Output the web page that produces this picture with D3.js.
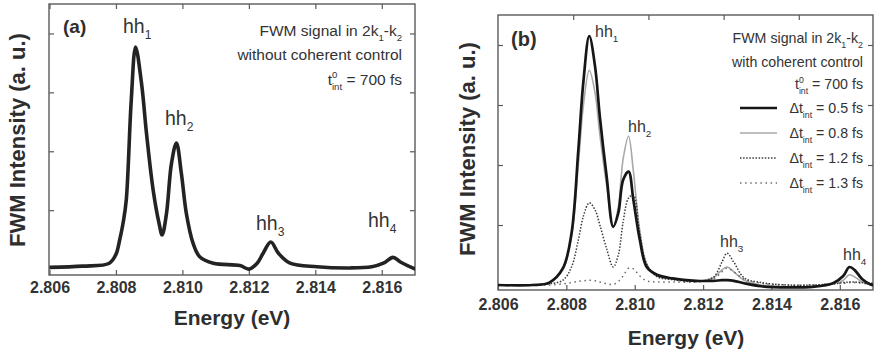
<!DOCTYPE html>
<html>
<head>
<meta charset="utf-8">
<script src="https://cdn.jsdelivr.net/npm/d3@7"></script>
<style>
  body { margin: 0; background: #fff; }
  svg { font-family: "Liberation Sans", Arial, sans-serif; }
</style>
</head>
<body>
<div id="chart"></div>
<script>
// DATA (ENERGY IN eV, INTENSITY IN ARB. UNITS)
const energyA = [2.806, 2.807, 2.8078, 2.808, 2.80811, 2.80822, 2.80831, 2.80846, 2.80859, 2.80877,
                 2.80892, 2.80912, 2.8093, 2.80939, 2.80952, 2.80967, 2.80982, 2.80997, 2.81012, 2.81032,
                 2.81052, 2.81093, 2.81173, 2.812, 2.81225, 2.81243, 2.81266, 2.81289, 2.81324, 2.81405,
                 2.81505, 2.8157, 2.81605, 2.81634, 2.81656, 2.81701];
const intensityA = [0.03, 0.05, 0.1, 0.25, 0.49, 0.8, 1.17, 2.86, 3.77, 3.15,
                    2.3, 1.34, 0.77, 0.58, 0.94, 1.79, 2.14, 1.62, 0.94, 0.44,
                    0.21, 0.1, 0.06, 0.0, 0.1, 0.27, 0.46, 0.27, 0.1, 0.04,
                    0.02, 0.04, 0.1, 0.2, 0.12, 0.0];

const energyB = [2.806, 2.807, 2.8075, 2.8079, 2.80815, 2.80835, 2.8085, 2.80867, 2.80884, 2.80898,
                 2.80918, 2.80937, 2.80952, 2.80966, 2.80982, 2.80996, 2.81015, 2.81035, 2.81065, 2.8111,
                 2.8118, 2.8123, 2.81255, 2.8127, 2.8129, 2.8132, 2.8137, 2.8145, 2.8152, 2.8158,
                 2.8161, 2.81628, 2.81645, 2.81665, 2.8169, 2.817];
const intensityB05 = [0.0, 0.0, 0.04, 0.28, 0.86, 2.25, 3.4, 4.15, 3.64, 2.8,
                      1.8, 0.97, 1.2, 1.75, 1.89, 1.42, 0.75, 0.3, 0.17, 0.11,
                      0.07, 0.07, 0.08, 0.08, 0.07, 0.03, -0.02, -0.04, -0.03, 0.03,
                      0.15, 0.3, 0.24, 0.1, 0.01, 0.0];
const intensityB08 = [0.0, 0.0, 0.03, 0.26, 0.8, 2.0, 3.0, 3.58, 3.2, 2.5,
                      1.65, 0.97, 1.3, 2.1, 2.48, 1.9, 0.9, 0.35, 0.15, 0.1,
                      0.06, 0.12, 0.25, 0.3, 0.22, 0.08, 0.0, -0.03, -0.03, 0.02,
                      0.08, 0.17, 0.13, 0.05, 0.0, 0.0];
const intensityB12 = [0.0, 0.0, 0.02, 0.08, 0.3, 0.75, 1.15, 1.37, 1.25, 1.0,
                      0.6, 0.3, 0.5, 1.05, 1.45, 1.5, 0.85, 0.35, 0.14, 0.09,
                      0.06, 0.13, 0.38, 0.53, 0.38, 0.12, 0.04, 0.0, 0.0, 0.02,
                      0.04, 0.05, 0.05, 0.04, 0.03, 0.03];
const intensityB13 = [0.0, 0.0, 0.0, 0.02, 0.04, 0.06, 0.07, 0.08, 0.07, 0.05,
                      0.02, 0.01, 0.06, 0.15, 0.28, 0.27, 0.15, 0.07, 0.05, 0.05,
                      0.05, 0.1, 0.22, 0.28, 0.22, 0.1, 0.03, 0.0, 0.0, 0.02,
                      0.03, 0.04, 0.04, 0.03, 0.02, 0.02];

const legendLabels = ["0.5 fs", "0.8 fs", "1.2 fs", "1.3 fs"];
const xTickValues = [2.806, 2.808, 2.810, 2.812, 2.814, 2.816];
const yTickValues = [1, 2, 3, 4];
const topTickValuesB = [2.8082, 2.8104, 2.8126, 2.8148];

// GLOBAL SIZES
const width = 874;
const height = 352;
const inkColor = "#232323";
const frameColor = "#5a5a5a";

let svg = d3.select("#chart")
    .append("svg")
    .attr("width", width)
    .attr("height", height);

// RICH TEXT HELPER: SUPERSCRIPTS / SUBSCRIPTS
function richText(g, x, y, size, anchor, segs) {
    const t = g.append("text")
        .attr("x", x)
        .attr("y", y)
        .attr("text-anchor", anchor)
        .attr("fill", "#333")
        .style("font-size", size + "px");
    let shift = 0;
    segs.forEach(s => {
        const target = s.sup ? -0.42 * size : s.sub ? 0.32 * size : 0;
        const ts = t.append("tspan").attr("dy", target - shift).text(s.t);
        if (s.sup || s.sub) ts.style("font-size", (size * 0.62) + "px");
        if (s.dx) ts.attr("dx", s.dx * size);
        shift = target;
    });
    return t;
}

// DRAW ONE PANEL FRAME WITH AXES
function drawFrame(id, box, x, y, labelBaseline, topTicks) {
    const g = svg.append("g").attr("class", "panel-" + id);

    g.append("clipPath").attr("id", "clip-" + id)
        .append("rect")
        .attr("x", box.left).attr("y", box.top)
        .attr("width", box.right - box.left).attr("height", box.bottom - box.top);

    // BOTTOM AXIS WITH INWARD TICKS
    const bottomAxis = d3.axisBottom(x)
        .tickValues(xTickValues)
        .tickSizeInner(-5)
        .tickSizeOuter(0)
        .tickPadding(labelBaseline - box.bottom - 11.4)
        .tickFormat(d3.format(".3f"));
    const gb = g.append("g")
        .attr("transform", "translate(0," + box.bottom + ")")
        .call(bottomAxis);
    gb.select(".domain").remove();
    gb.selectAll("line").attr("stroke", frameColor).attr("stroke-width", 1.2);
    gb.selectAll("text")
        .attr("fill", "#333")
        .style("font-size", "16px")
        .style("font-weight", "bold")
        .style("font-family", "'Liberation Sans', Arial, sans-serif");

    // TOP AXIS
    const ga = g.append("g")
        .attr("transform", "translate(0," + box.top + ")")
        .call(d3.axisTop(x).tickValues(topTicks).tickSizeInner(-5).tickSizeOuter(0).tickFormat(""));
    ga.select(".domain").remove();
    ga.selectAll("line").attr("stroke", frameColor).attr("stroke-width", 1.2);

    // LEFT AND RIGHT AXES
    const gl = g.append("g")
        .attr("transform", "translate(" + box.left + ",0)")
        .call(d3.axisLeft(y).tickValues(yTickValues).tickSizeInner(-5).tickSizeOuter(0).tickFormat(""));
    gl.select(".domain").remove();
    gl.selectAll("line").attr("stroke", frameColor).attr("stroke-width", 1.2);

    const gr = g.append("g")
        .attr("transform", "translate(" + box.right + ",0)")
        .call(d3.axisRight(y).tickValues(yTickValues).tickSizeInner(-5).tickSizeOuter(0).tickFormat(""));
    gr.select(".domain").remove();
    gr.selectAll("line").attr("stroke", frameColor).attr("stroke-width", 1.2);

    // FRAME
    g.append("rect")
        .attr("x", box.left).attr("y", box.top)
        .attr("width", box.right - box.left).attr("height", box.bottom - box.top)
        .attr("fill", "none")
        .attr("stroke", frameColor)
        .attr("stroke-width", 1.4);

    return g;
}

function addTitles(g, xTitle, yTitle) {
    g.append("text")
        .attr("x", xTitle[0]).attr("y", xTitle[1])
        .attr("text-anchor", "middle")
        .attr("fill", "#2e2e2e")
        .style("font-size", "21px")
        .style("font-weight", "bold")
        .text("Energy (eV)");
    g.append("text")
        .attr("transform", "translate(" + yTitle[0] + "," + yTitle[1] + ") rotate(-90)")
        .attr("text-anchor", "middle")
        .attr("fill", "#2e2e2e")
        .style("font-size", "22px")
        .style("font-weight", "bold")
        .text("FWM Intensity (a. u.)");
}

function hhLabel(g, x, y, size, n) {
    richText(g, x, y, size, "start", [{t: "hh"}, {t: String(n), sub: true}]);
}

// ================= PANEL (a) =================
const boxA = {left: 49, right: 415, top: 4, bottom: 275};
const xA = d3.scaleLinear().domain([2.806, 2.817]).range([49.5, 415]);
const yA = d3.scaleLinear().domain([-0.1, 4.5]).range([275, 4]);
const gA = drawFrame("a", boxA, xA, yA, 293, xTickValues);

const lineA = d3.line()
    .x(d => xA(d[0]))
    .y(d => yA(d[1]))
    .curve(d3.curveCatmullRom.alpha(0.5));

gA.append("path")
    .datum(d3.zip(energyA, intensityA))
    .attr("clip-path", "url(#clip-a)")
    .attr("fill", "none")
    .attr("stroke", inkColor)
    .attr("stroke-width", 3.6)
    .attr("stroke-linejoin", "round")
    .attr("d", lineA);

gA.append("text")
    .attr("x", 63).attr("y", 33)
    .attr("fill", "#2e2e2e")
    .style("font-size", "19px")
    .style("font-weight", "bold")
    .text("(a)");

hhLabel(gA, 123, 33, 19.5, 1);
hhLabel(gA, 165, 125, 19.5, 2);
hhLabel(gA, 256, 230, 19.5, 3);
hhLabel(gA, 368, 227, 19.5, 4);

richText(gA, 402, 36, 15.5, "end", [{t: "FWM signal in 2k"}, {t: "1", sub: true}, {t: "-k"}, {t: "2", sub: true}]);
richText(gA, 402, 60, 15.5, "end", [{t: "without coherent control"}]);
richText(gA, 402, 85, 15.5, "end", [{t: "t"}, {t: "0", sup: true}, {t: "int", sub: true, dx: -0.35}, {t: " = 700 fs"}]);

addTitles(gA, [232, 325], [25, 140]);

// ================= PANEL (b) =================
const boxB = {left: 498, right: 873, top: 15, bottom: 290};
const xB = d3.scaleLinear().domain([2.806, 2.817]).range([498, 874]);
const yB = d3.scaleLinear().domain([-0.083, 4.5]).range([290, 15]);
const gB = drawFrame("b", boxB, xB, yB, 310, topTickValuesB);

const lineB = d3.line()
    .x(d => xB(d[0]))
    .y(d => yB(d[1]))
    .curve(d3.curveCatmullRom.alpha(0.5));

// SERIES STYLES (ORDER = LEGEND ORDER)
const seriesB = [
    {values: intensityB05, stroke: "#161616", width: 2.7, dash: null},
    {values: intensityB08, stroke: "#a8a8a8", width: 1.6, dash: null},
    {values: intensityB12, stroke: "#3a3a3a", width: 1.5, dash: "1.5,1.6"},
    {values: intensityB13, stroke: "#6a6a6a", width: 1.5, dash: "1.5,3.6"}
];
const drawOrder = [1, 3, 2, 0];

drawOrder.forEach(i => {
    const s = seriesB[i];
    gB.append("path")
        .datum(d3.zip(energyB, s.values))
        .attr("clip-path", "url(#clip-b)")
        .attr("fill", "none")
        .attr("stroke", s.stroke)
        .attr("stroke-width", s.width)
        .attr("stroke-dasharray", s.dash)
        .attr("stroke-linejoin", "round")
        .attr("d", lineB);
});

gB.append("text")
    .attr("x", 511).attr("y", 46)
    .attr("fill", "#2e2e2e")
    .style("font-size", "20px")
    .style("font-weight", "bold")
    .text("(b)");

hhLabel(gB, 595, 37, 16, 1);
hhLabel(gB, 628, 132, 16, 2);
hhLabel(gB, 720, 247, 16, 3);
hhLabel(gB, 843, 260, 16, 4);

richText(gB, 863, 43, 14.2, "end", [{t: "FWM signal in 2k"}, {t: "1", sub: true}, {t: "-k"}, {t: "2", sub: true}]);
richText(gB, 863, 67, 14.2, "end", [{t: "with coherent control"}]);
richText(gB, 863, 89, 14.2, "end", [{t: "t"}, {t: "0", sup: true}, {t: "int", sub: true, dx: -0.35}, {t: " = 700 fs"}]);

// LEGEND
const legendBaselines = [113, 138, 163, 188];
legendLabels.forEach((lab, i) => {
    const s = seriesB[i];
    const yb = legendBaselines[i];
    gB.append("line")
        .attr("x1", 740).attr("x2", 777)
        .attr("y1", yb - 5).attr("y2", yb - 5)
        .attr("stroke", s.stroke)
        .attr("stroke-width", s.width)
        .attr("stroke-dasharray", s.dash);
    richText(gB, 863, yb, 14.2, "end", [{t: "\u0394t"}, {t: "int", sub: true}, {t: " = " + lab}]);
});

addTitles(gB, [686, 345], [475, 149]);
</script>
</body>
</html>
